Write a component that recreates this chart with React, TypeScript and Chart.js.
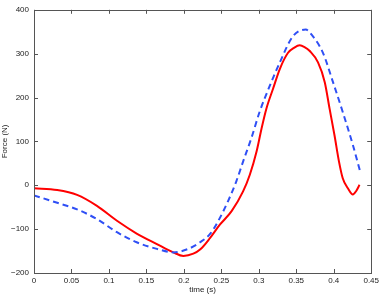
import React, { useEffect, useRef } from "react";
import { Chart, registerables } from "chart.js";

Chart.register(...registerables);

const redTime = [0, 0.031, 0.0575, 0.084, 0.1107, 0.137, 0.164, 0.186, 0.1993, 0.2126, 0.222, 0.235, 0.248, 0.2637, 0.279, 0.288, 0.297, 0.3036, 0.31, 0.319, 0.328, 0.339, 0.3475, 0.3546, 0.361, 0.368, 0.379, 0.388, 0.3945, 0.401, 0.407, 0.412, 0.4189, 0.4255, 0.43, 0.4344];
const redForce = [-7, -11, -22, -47, -81, -110, -134, -153, -161, -156, -146, -120, -90, -59, -14, 24, 77, 129, 174, 220, 265, 302, 314, 319, 315, 306, 280, 235, 174, 114, 54, 16, -7, -21, -13, 1];

const blueTime = [0, 0.031, 0.0575, 0.084, 0.1107, 0.137, 0.164, 0.186, 0.206, 0.2215, 0.235, 0.246, 0.259, 0.27, 0.279, 0.29, 0.301, 0.3147, 0.328, 0.3457, 0.3626, 0.372, 0.3856, 0.399, 0.412, 0.4255, 0.4353];
const blueForce = [-23, -40, -55, -77, -107, -130, -145, -153, -145, -130, -111, -81, -36, 9, 54, 107, 167, 227, 280, 340, 355, 340, 302, 235, 167, 92, 31];

const xTicks = [0, 0.05, 0.1, 0.15, 0.2, 0.25, 0.3, 0.35, 0.4, 0.45];
const yTicks = [-200, -100, 0, 100, 200, 300, 400];

const FONT = "'Liberation Sans', Arial, sans-serif";

const framePlugin = {
  id: "frame",
  afterDraw(chart: any) {
    const { ctx, chartArea, scales } = chart;
    const { left, right, top, bottom } = chartArea;
    ctx.save();
    ctx.strokeStyle = "#555";
    ctx.lineWidth = 1;
    ctx.strokeRect(Math.round(left) + 0.5, Math.round(top) + 0.5, Math.round(right - left), Math.round(bottom - top));
    const tl = 4;
    ctx.beginPath();
    xTicks.forEach((v) => {
      const px = Math.round(scales.x.getPixelForValue(v)) + 0.5;
      ctx.moveTo(px, bottom);
      ctx.lineTo(px, bottom - tl);
      ctx.moveTo(px, top);
      ctx.lineTo(px, top + tl);
    });
    yTicks.forEach((v) => {
      const py = Math.round(scales.y.getPixelForValue(v)) + 0.5;
      ctx.moveTo(left, py);
      ctx.lineTo(left + tl, py);
      ctx.moveTo(right, py);
      ctx.lineTo(right - tl, py);
    });
    ctx.stroke();
    ctx.restore();
  },
};

export default function App() {
  const ref = useRef<HTMLCanvasElement | null>(null);
  useEffect(() => {
    if (!ref.current) return;
    const chart = new Chart(ref.current, {
      type: "line",
      data: {
        datasets: [
          {
            label: "blue",
            data: blueTime.map((t, i) => ({ x: t, y: blueForce[i] })),
            borderColor: "#2f4ff5",
            borderWidth: 2,
            borderDash: [6, 4],
            pointRadius: 0,
            fill: false,
            cubicInterpolationMode: "monotone",
          },
          {
            label: "red",
            data: redTime.map((t, i) => ({ x: t, y: redForce[i] })),
            borderColor: "#ff0000",
            borderWidth: 2,
            pointRadius: 0,
            fill: false,
            cubicInterpolationMode: "monotone",
          },
        ],
      },
      options: {
        animation: false,
        responsive: false,
        layout: { padding: { top: 7, right: 10, left: 0, bottom: 0 } },
        plugins: { legend: { display: false }, tooltip: { enabled: false } },
        scales: {
          x: {
            type: "linear",
            min: 0,
            max: 0.45,
            afterBuildTicks: (s: any) => {
              s.ticks = xTicks.map((v) => ({ value: v }));
            },
            ticks: {
              font: { family: FONT, size: 8 },
              color: "#222",
              padding: 3,
              maxRotation: 0,
              autoSkip: false,
              callback: (v: any) => String(Math.round(Number(v) * 100) / 100),
            },
            grid: { display: false, drawTicks: false },
            border: { display: false },
            title: { display: true, text: "time (s)", font: { family: FONT, size: 8 }, color: "#222", padding: 0 },
            afterFit: (s: any) => {
              s.height = 22;
            },
          },
          y: {
            type: "linear",
            min: -200,
            max: 400,
            afterBuildTicks: (s: any) => {
              s.ticks = yTicks.map((v) => ({ value: v }));
            },
            ticks: {
              font: { family: FONT, size: 8 },
              color: "#222",
              padding: 5,
              autoSkip: false,
              callback: (v: any) => (Number(v) < 0 ? "\u2212" + String(-Number(v)) : String(v)),
            },
            grid: { display: false, drawTicks: false },
            border: { display: false },
            title: { display: true, text: "Force (N)", font: { family: FONT, size: 8 }, color: "#222", padding: { top: 0, bottom: 2 } },
            afterFit: (s: any) => {
              s.width = 34;
            },
          },
        },
      },
      plugins: [framePlugin],
    } as any);
    return () => chart.destroy();
  }, []);
  return (
    <div style={{ position: "absolute", left: 0, top: 0, width: 382, height: 295, background: "#fff" }}>
      <canvas ref={ref} width={382} height={295} style={{ display: "block" }} />
    </div>
  );
}
